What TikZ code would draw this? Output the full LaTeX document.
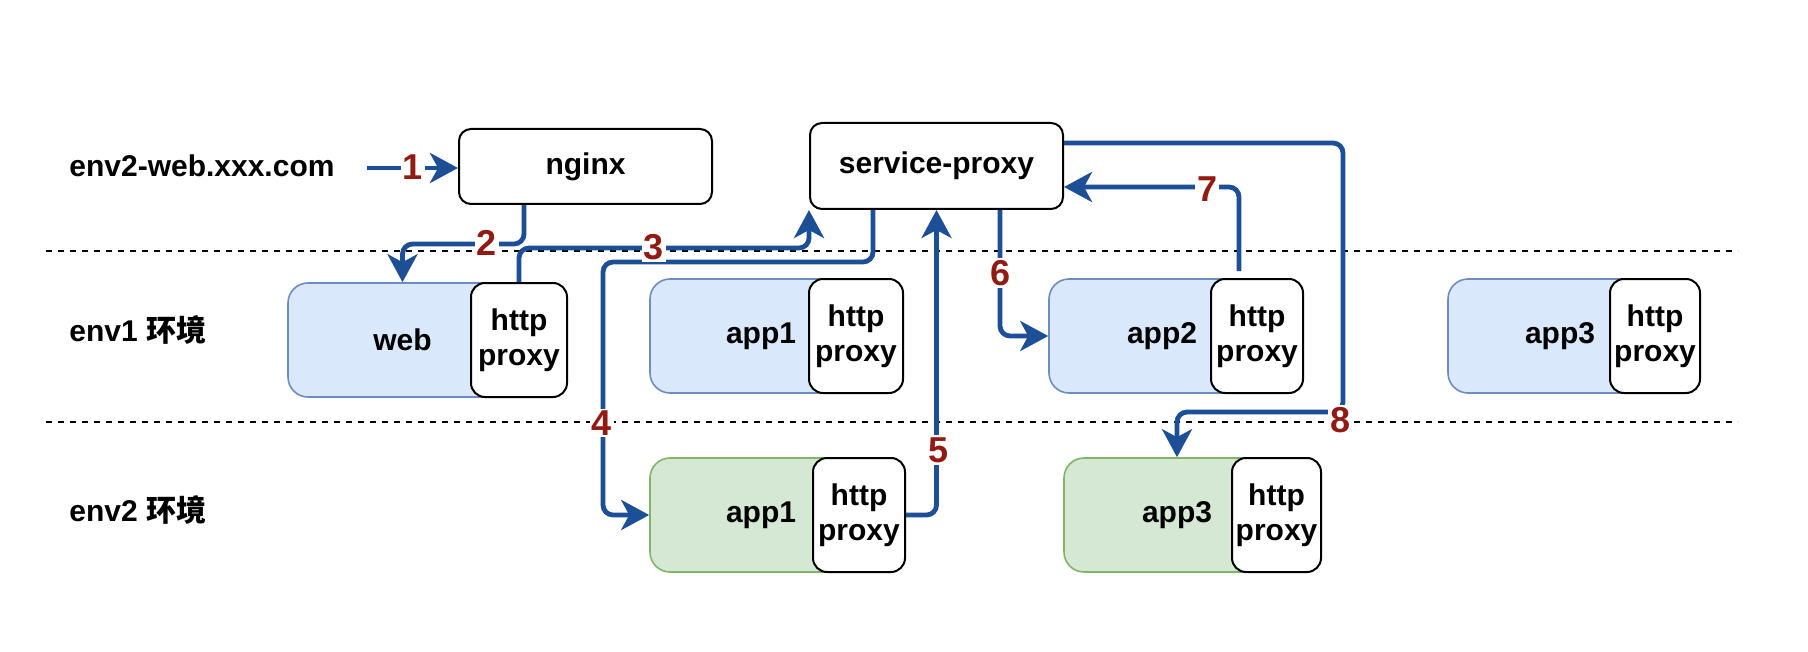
\documentclass[tikz,border=0pt]{standalone}
\usepackage{fontspec}
\setmainfont{Liberation Sans}
\newfontfamily\cjk{Noto Sans CJK SC}
\usetikzlibrary{arrows.meta,calc}
\definecolor{arrblue}{HTML}{1D4F96}
\definecolor{labred}{HTML}{911A12}
\definecolor{bfill}{HTML}{DAE8FC}
\definecolor{bdraw}{HTML}{6C8EBF}
\definecolor{gfill}{HTML}{D5E8D4}
\definecolor{gdraw}{HTML}{82B366}
\begin{document}
\begin{tikzpicture}[x=0.5pt,y=-0.5pt,
  txt/.style={font=\bfseries\fontsize{15}{17.5}\selectfont},
  topbox/.style={draw=black,line width=1pt,rounded corners=6pt,fill=white,inner sep=0pt,txt},
  envone/.style={draw=bdraw,fill=bfill,line width=0.8pt,rounded corners=10pt,minimum height=57pt,inner sep=0pt,txt},
  envtwo/.style={draw=gdraw,fill=gfill,line width=0.8pt,rounded corners=10pt,minimum height=57pt,inner sep=0pt,txt},
  proxybox/.style={draw=black,fill=white,line width=1pt,rounded corners=7pt,minimum height=57pt,inner sep=0pt,align=center,txt},
  arr/.style={draw=arrblue,line width=2.4pt,rounded corners=5pt,-{Stealth[length=14pt,width=15pt,inset=4pt]}},
  lab/.style={fill=white,text=labred,inner sep=1pt,font=\bfseries\fontsize{18}{20}\selectfont},
  sepline/.style={draw=black,line width=1pt,dash pattern=on 3pt off 3pt},
  side/.style={anchor=base west,txt,inner sep=0pt}]
\useasboundingbox (0,0) rectangle (1808,652);

% separators
\coordinate (d1l) at (46,251);
\coordinate (d1r) at (1738,251);
\coordinate (d2l) at (46,422);
\coordinate (d2r) at (1738,422);
\draw[sepline] (d1l) -- (d1r);
\draw[sepline] (d2l) -- (d2r);

% side labels
\node[side] (t1) at (69,177) {env2-web.xxx.com};
\node[side] (t2) at (69,341) {env1 {\cjk 环境}};
\node[side] (t3) at (69,521) {env2 {\cjk 环境}};

% top boxes
\node[topbox,minimum width=126.5pt,minimum height=37.5pt] (nginx) at (585.5,166.5) {nginx};
\node[topbox,minimum width=126.5pt,minimum height=43pt] (sp) at (936.5,166) {service-proxy};

% env1
\node[envone,minimum width=114.5pt] (web) at (402.5,340) {web};
\node[proxybox,minimum width=48pt] (webp) at (519,340) {http\\proxy};
\node[envone,minimum width=111pt] (app1) at (761,336) {app1};
\node[proxybox,minimum width=47pt] (app1p) at (856,336) {http\\proxy};
\node[envone,minimum width=113pt] (app2) at (1162,336) {app2};
\node[proxybox,minimum width=46pt] (app2p) at (1257,336) {http\\proxy};
\node[envone,minimum width=112pt] (app3) at (1560,336) {app3};
\node[proxybox,minimum width=45pt] (app3p) at (1655,336) {http\\proxy};

% env2
\node[envtwo,minimum width=111pt] (e2app1) at (761,515) {app1};
\node[proxybox,minimum width=46pt] (e2app1p) at (859,515) {http\\proxy};
\node[envtwo,minimum width=113pt] (e2app3) at (1177,515) {app3};
\node[proxybox,minimum width=44.5pt] (e2app3p) at (1276.5,515) {http\\proxy};

% arrows
\coordinate (s1) at (367,168);
\draw[arr] (s1) -- (s1 -| nginx.west);

\coordinate (x2) at (524,244);
\draw[arr] (nginx.south -| x2) -- (x2) -| (web.north);

\coordinate (y3) at (0,248);
\draw[arr] (webp.north) |- (y3 -| sp.south west) -- (sp.south west);

\coordinate (c4) at (603,262);
\coordinate (x4) at (873,0);
\draw[arr] (sp.south -| x4) |- (c4) |- (e2app1.west);

\draw[arr] (e2app1p.east) -| (sp.south);

\coordinate (x6) at (1000,0);
\draw[arr] (sp.south -| x6) |- (app2.west);

\coordinate (s7) at ($(app2p.north)+(-18,-7)$);
\coordinate (y7) at (0,187);
\draw[arr] (s7) |- (sp.east |- y7);

\coordinate (y8) at (0,143);
\coordinate (c8) at (1343,412);
\draw[arr] (sp.east |- y8) -| (c8) -| (e2app3.north);

% step labels
\node[lab] (l1) at (413,167) {1};
\node[lab] (l2) at (487,243) {2};
\node[lab] (l3) at (654,247) {3};
\node[lab] (l4) at (602,423) {4};
\node[lab] (l5) at (938,450) {5};
\node[lab] (l6) at (1000,273) {6};
\node[lab] (l7) at (1207,189) {7};
\node[lab] (l8) at (1340,420) {8};
\end{tikzpicture}
\end{document}
